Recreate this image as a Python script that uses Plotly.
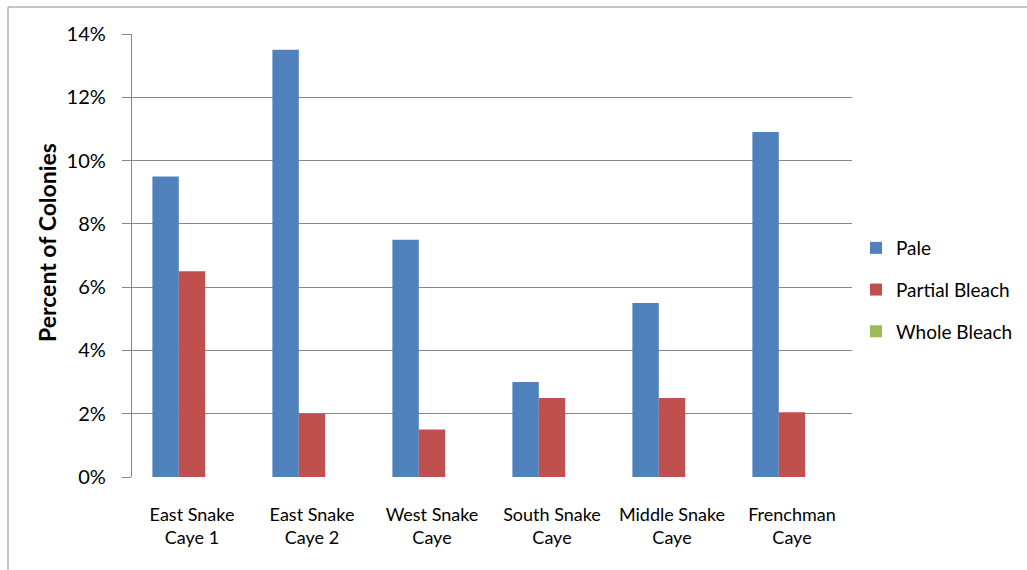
import plotly.graph_objects as go

categories = ["East Snake<br>Caye 1", "East Snake<br>Caye 2", "West Snake<br>Caye",
              "South Snake<br>Caye", "Middle Snake<br>Caye", "Frenchman<br>Caye"]
pale = [9.5, 13.5, 7.5, 3.0, 5.5, 10.9]
partial_bleach = [6.5, 2.0, 1.5, 2.5, 2.5, 2.05]
whole_bleach = [0, 0, 0, 0, 0, 0]

FONT = "Lato, 'Noto Sans', sans-serif"
GRID = "#878787"

series = [
    ("Pale", pale, "#4F81BD"),
    ("Partial Bleach", partial_bleach, "#C0504D"),
    ("Whole Bleach", whole_bleach, "#9BBB59"),
]

fig = go.Figure()
for i, (name, vals, color) in enumerate(series):
    fig.add_trace(go.Bar(
        name=name, x=categories, y=vals,
        marker=dict(color=color, line=dict(width=0)),
        legendgroup=f"g{i}",
    ))

L, R, T, B = 132, 175, 34, 93
W, H = 1027, 570
pw, ph = W - L - R, H - T - B

fig.update_layout(
    width=W, height=H,
    margin=dict(l=L, r=R, t=T, b=B, autoexpand=False),
    paper_bgcolor="white", plot_bgcolor="white",
    barmode="group", bargap=0.34, bargroupgap=0,
    font=dict(family=FONT, size=18, color="#000000"),
    showlegend=True,
    legend=dict(
        x=(856 - L) / pw, xanchor="left",
        y=(477 - 290) / ph, yanchor="middle",
        font=dict(size=19), tracegroupgap=14,
        bgcolor="rgba(0,0,0,0)",
    ),
    shapes=[
        # outer chart frame (left and top edges)
        dict(type="line", xref="paper", yref="paper",
             x0=(8 - L) / pw, x1=(8 - L) / pw, y0=(477 - 575) / ph, y1=(477 - 7) / ph,
             line=dict(color="#8c8c8c", width=1)),
        dict(type="line", xref="paper", yref="paper",
             x0=(8 - L) / pw, x1=(1030 - L) / pw, y0=(477 - 7) / ph, y1=(477 - 7) / ph,
             line=dict(color="#8c8c8c", width=1)),
    ],
    annotations=[
        dict(text="<b>Percent of Colonies</b>", textangle=-90,
             xref="paper", yref="paper",
             x=(47 - L) / pw, y=(477 - 243) / ph,
             xanchor="center", yanchor="middle", showarrow=False,
             font=dict(size=23)),
    ],
)

fig.update_xaxes(
    showgrid=False, showline=False, ticks="",
    tickfont=dict(size=18), ticklabelstandoff=25,
)
fig.update_yaxes(
    range=[0, 14], dtick=2, ticksuffix="%",
    showgrid=True, gridcolor=GRID, gridwidth=1.3,
    showline=True, linecolor=GRID, linewidth=1.3,
    ticks="outside", ticklen=9, tickcolor=GRID, tickwidth=1.3,
    tickfont=dict(size=20), ticklabelstandoff=12,
    zeroline=False,
)

fig.write_html("out.html")
